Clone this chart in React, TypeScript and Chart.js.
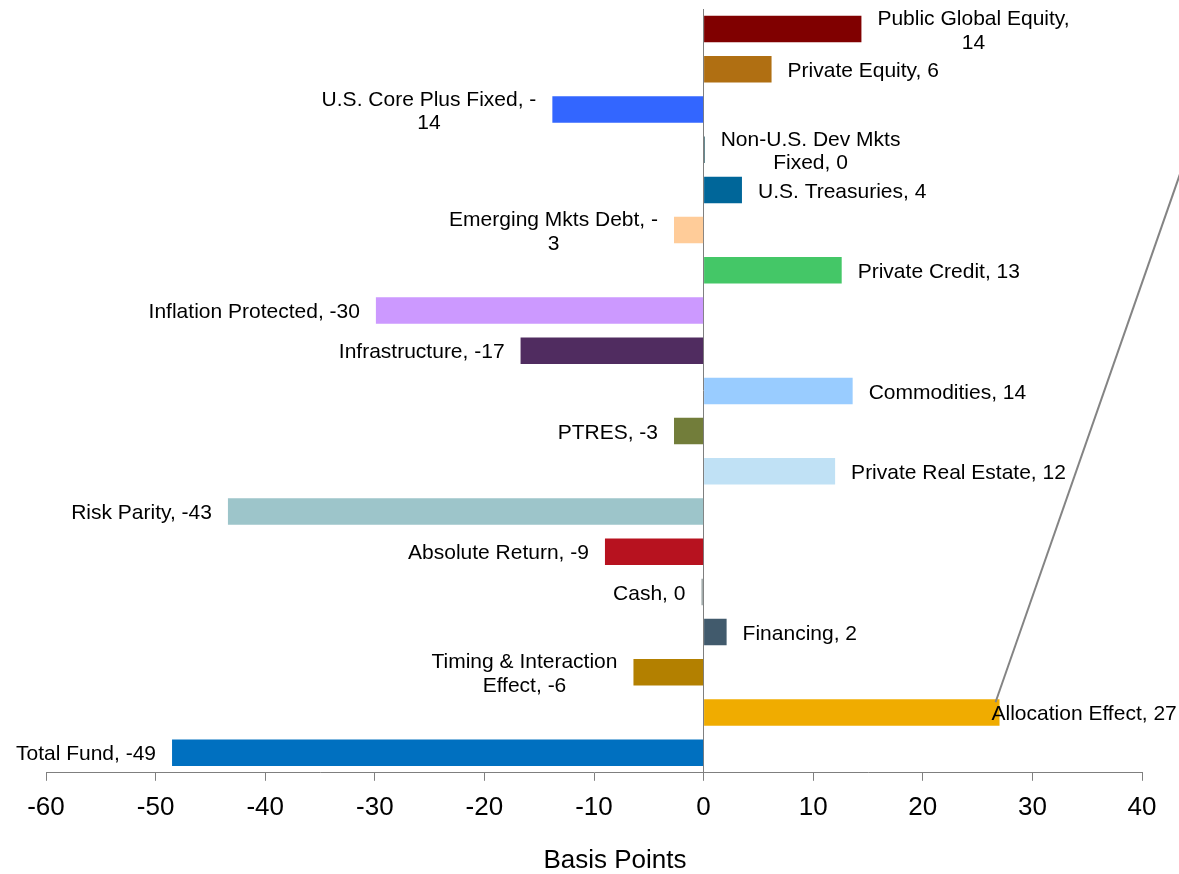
import React, { useEffect, useRef } from "react";
import { Chart, registerables } from "chart.js";

Chart.register(...registerables);

const categories = [
  "Public Global Equity",
  "Private Equity",
  "U.S. Core Plus Fixed",
  "Non-U.S. Dev Mkts Fixed",
  "U.S. Treasuries",
  "Emerging Mkts Debt",
  "Private Credit",
  "Inflation Protected",
  "Infrastructure",
  "Commodities",
  "PTRES",
  "Private Real Estate",
  "Risk Parity",
  "Absolute Return",
  "Cash",
  "Financing",
  "Timing & Interaction Effect",
  "Allocation Effect",
  "Total Fund",
];

const values = [14.4, 6.2, -13.8, 0.1, 3.5, -2.7, 12.6, -29.9, -16.7, 13.6, -2.7, 12.0, -43.4, -9.0, -0.2, 2.1, -6.4, 27.0, -48.5];

const labelLines: string[][] = [
  ["Public Global Equity,", "14"],
  ["Private Equity, 6"],
  ["U.S. Core Plus Fixed, -", "14"],
  ["Non-U.S. Dev Mkts", "Fixed, 0"],
  ["U.S. Treasuries, 4"],
  ["Emerging Mkts Debt, -", "3"],
  ["Private Credit, 13"],
  ["Inflation Protected, -30"],
  ["Infrastructure, -17"],
  ["Commodities, 14"],
  ["PTRES, -3"],
  ["Private Real Estate, 12"],
  ["Risk Parity, -43"],
  ["Absolute Return, -9"],
  ["Cash, 0"],
  ["Financing, 2"],
  ["Timing & Interaction", "Effect, -6"],
  ["Allocation Effect, 27"],
  ["Total Fund, -49"],
];

const barColors = [
  "#800000",
  "#B06F12",
  "#3366FF",
  "#003B46",
  "#006699",
  "#FFCC99",
  "#44C767",
  "#CC99FF",
  "#502C60",
  "#99CCFF",
  "#727D3A",
  "#C0E1F5",
  "#9DC5CA",
  "#B7121F",
  "#A3ADAD",
  "#415A6C",
  "#B38000",
  "#F0AC00",
  "#0070C0",
];

const xTicks = { min: -60, max: 40, step: 10 };
const axisTitle = "Basis Points";
const leaderCategory = "Allocation Effect";

const FONT = '"Liberation Sans", Arial, sans-serif';

const labelPlugin = {
  id: "barLabels",
  afterDatasetsDraw(chart: any) {
    const ctx = chart.ctx as CanvasRenderingContext2D;
    const meta = chart.getDatasetMeta(0);
    const leaderIndex = categories.indexOf(leaderCategory);
    ctx.save();
    ctx.font = `21px ${FONT}`;
    ctx.fillStyle = "#000000";
    ctx.textBaseline = "middle";
    ctx.textAlign = "center";
    meta.data.forEach((bar: any, i: number) => {
      const { x, y, height } = bar.getProps(["x", "y", "height"], true);
      const lines = labelLines[i];
      const widths = lines.map((l) => ctx.measureText(l).width);
      const w = Math.max(...widths);
      const lh = 23.5;
      const y0 = y + 2 - ((lines.length - 1) * lh) / 2;
      let center: number;
      if (i === leaderIndex) {
        ctx.save();
        ctx.strokeStyle = "#848484";
        ctx.lineWidth = 2;
        ctx.beginPath();
        const sx = x - 4;
        const sy = y - height / 2 + 3;
        ctx.moveTo(sx, sy);
        ctx.lineTo(sx + 183 * 1.3, sy - 524 * 1.3);
        ctx.stroke();
        ctx.restore();
        center = x - 8 + w / 2;
      } else if (values[i] >= 0) {
        center = x + 16 + w / 2;
      } else {
        center = x - 16 - w / 2;
      }
      lines.forEach((l, k) => ctx.fillText(l, center, y0 + k * lh));
    });
    // axis title
    ctx.font = `26px ${FONT}`;
    ctx.textAlign = "center";
    ctx.textBaseline = "middle";
    const xs = chart.scales.x;
    ctx.fillText(axisTitle, (xs.left + xs.right) / 2 + 21, xs.bottom + 27);
    ctx.restore();
  },
};

export default function App() {
  const canvasRef = useRef<HTMLCanvasElement | null>(null);

  useEffect(() => {
    document.body.style.margin = "0";
    const canvas = canvasRef.current;
    if (!canvas) return;
    const chart = new Chart(canvas, {
      type: "bar",
      data: {
        labels: categories,
        datasets: [
          {
            data: values,
            backgroundColor: barColors,
            borderWidth: 0,
            barPercentage: 0.66,
            categoryPercentage: 1,
          },
        ],
      },
      options: {
        indexAxis: "y",
        animation: false,
        responsive: true,
        maintainAspectRatio: false,
        layout: { padding: { left: 46, right: 37, top: 9, bottom: 40 } },
        plugins: {
          legend: { display: false },
          tooltip: { enabled: false },
        },
        scales: {
          y: {
            display: false,
          },
          x: {
            type: "linear",
            min: xTicks.min,
            max: xTicks.max,
            ticks: {
              stepSize: xTicks.step,
              color: "#000000",
              font: { family: FONT, size: 26 },
              padding: 11,
            },
            grid: {
              color: (c: any) => (c.tick && c.tick.value === 0 ? "#7F7F7F" : "rgba(0,0,0,0)"),
              tickColor: "#7F7F7F",
              tickLength: 8,
              lineWidth: 1,
            },
            border: { display: true, color: "#7F7F7F", width: 1 },
          },
        },
      },
      plugins: [labelPlugin],
    });
    return () => chart.destroy();
  }, []);

  return (
    <div style={{ position: "relative", width: 1179, height: 874 }}>
      <canvas ref={canvasRef} />
    </div>
  );
}
